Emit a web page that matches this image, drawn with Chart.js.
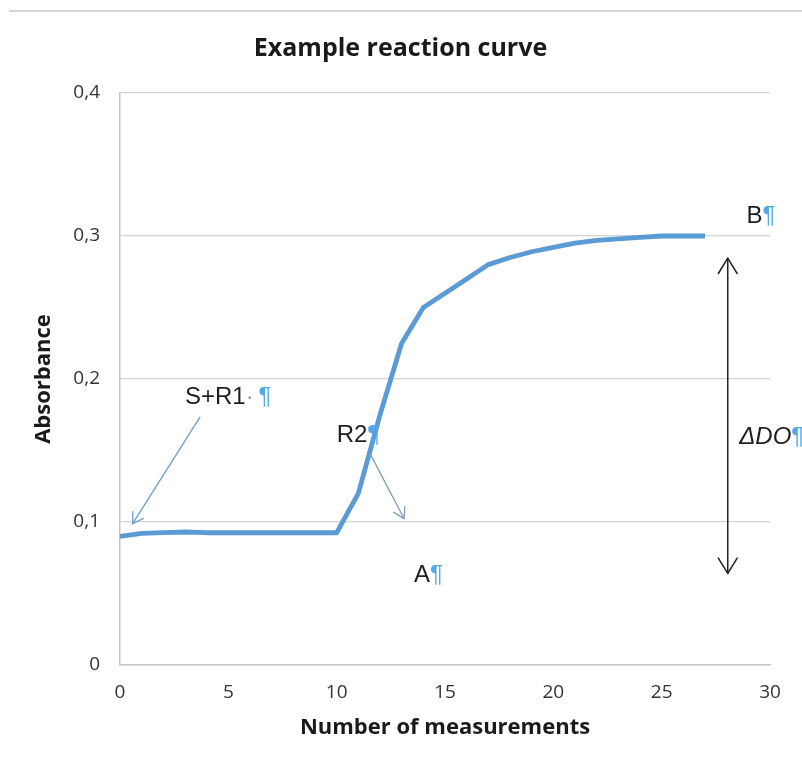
<!DOCTYPE html>
<html>
<head>
<meta charset="utf-8">
<script src="https://cdn.jsdelivr.net/npm/chart.js@4.4.1/dist/chart.umd.min.js"></script>
<style>
  html, body { margin: 0; padding: 0; background: #ffffff; }
  #wrap { position: relative; width: 802px; height: 766px; }
  #topline { position: absolute; left: 9px; right: 0; top: 10px; height: 2px; background: #d4d4d4; }
  canvas { position: absolute; left: 0; top: 0; }
</style>
</head>
<body>
<div id="wrap">
  <canvas id="c" width="802" height="766"></canvas>
  <div id="topline"></div>
</div>
<script>
// ---- data ----
const measurements = [0, 1, 2, 3, 4, 5, 6, 7, 8, 9, 10, 11, 12, 13, 14, 15, 16, 17, 18, 19, 20, 21, 22, 23, 24, 25, 26, 27];
const absorbance = [0.090, 0.092, 0.0925, 0.093, 0.0925, 0.0925, 0.0925, 0.0925, 0.0925, 0.0925, 0.0925,
                    0.120, 0.175, 0.225, 0.250, 0.260, 0.270, 0.280, 0.285, 0.289, 0.292, 0.295, 0.297,
                    0.298, 0.299, 0.300, 0.300, 0.300];
const yTickLabels = ['0', '0,1', '0,2', '0,3', '0,4'];
const xTickLabels = ['0', '5', '10', '15', '20', '25', '30'];

// ---- annotations (data coordinates) ----
const noteTexts = [
  { x: 3.0,   y: 0.1822, parts: [['S+R1', '#1e1e1e', ''], ['\u00B7', '#9a9a9a', ''], ['\u2009', '#ffffff', ''], ['\u00B6', '#4fa8ea', '']] },
  { x: 10.0,  y: 0.1559, parts: [['R2', '#1e1e1e', ''], ['\u00B6', '#4fa8ea', '']] },
  { x: 13.57, y: 0.058,  parts: [['A', '#1e1e1e', ''], ['\u00B6', '#4fa8ea', '']] },
  { x: 28.92, y: 0.3093, parts: [['B', '#1e1e1e', ''], ['\u00B6', '#4fa8ea', '']] },
  { x: 28.58, y: 0.1548, parts: [['\u0394DO', '#1e1e1e', 'italic '], ['\u00B6', '#4fa8ea', '']] }
];
const noteArrows = [
  { from: [3.69, 0.1733], to: [0.585, 0.0988], color: '#6b9fd3', width: 1.3, head: 12, both: false },
  { from: [11.54, 0.1478], to: [13.11, 0.1024], color: '#7d9cbd', width: 1.3, head: 12, both: false },
  { from: [28.05, 0.0640], to: [28.05, 0.2845], color: '#222222', width: 1.5, head: 18, both: true }
];

function drawHead(ctx, x1, y1, x2, y2, len) {
  const ang = Math.atan2(y2 - y1, x2 - x1);
  const spread = 0.55;
  ctx.beginPath();
  ctx.moveTo(x2 - len * Math.cos(ang - spread), y2 - len * Math.sin(ang - spread));
  ctx.lineTo(x2, y2);
  ctx.lineTo(x2 - len * Math.cos(ang + spread), y2 - len * Math.sin(ang + spread));
  ctx.stroke();
}

const notesPlugin = {
  id: 'notes',
  afterDatasetsDraw(chart) {
    const ctx = chart.ctx;
    const xs = chart.scales.x, ys = chart.scales.y;
    ctx.save();
    ctx.lineCap = 'round';
    ctx.lineJoin = 'round';
    noteArrows.forEach(a => {
      const x1 = xs.getPixelForValue(a.from[0]), y1 = ys.getPixelForValue(a.from[1]);
      const x2 = xs.getPixelForValue(a.to[0]), y2 = ys.getPixelForValue(a.to[1]);
      ctx.strokeStyle = a.color;
      ctx.lineWidth = a.width;
      ctx.beginPath();
      ctx.moveTo(x1, y1);
      ctx.lineTo(x2, y2);
      ctx.stroke();
      drawHead(ctx, x1, y1, x2, y2, a.head);
      if (a.both) drawHead(ctx, x2, y2, x1, y1, a.head);
    });
    ctx.textBaseline = 'alphabetic';
    ctx.textAlign = 'left';
    noteTexts.forEach(n => {
      let px = xs.getPixelForValue(n.x);
      const py = ys.getPixelForValue(n.y);
      n.parts.forEach(p => {
        ctx.font = p[2] + '24px "Liberation Sans", Arial, sans-serif';
        ctx.fillStyle = p[1];
        ctx.fillText(p[0], px, py);
        px += ctx.measureText(p[0]).width;
      });
    });
    ctx.restore();
  }
};

new Chart(document.getElementById('c'), {
  type: 'line',
  data: {
    datasets: [{
      data: measurements.map((m, i) => ({ x: m, y: absorbance[i] })),
      borderColor: '#5b9bd5',
      borderWidth: 4.8,
      pointRadius: 0,
      tension: 0,
      fill: false,
      borderCapStyle: 'butt',
      borderJoinStyle: 'round'
    }]
  },
  options: {
    responsive: false,
    animation: false,
    devicePixelRatio: 1,
    layout: { padding: { left: 31, right: 32, top: 0, bottom: 0 } },
    plugins: {
      legend: { display: false },
      tooltip: { enabled: false },
      title: {
        display: true,
        text: 'Example reaction curve',
        color: '#1a1a1a',
        font: { family: '"Open Sans", sans-serif', size: 25, weight: 'bold' },
        padding: { top: 34, bottom: 29 }
      }
    },
    scales: {
      x: {
        type: 'linear',
        min: 0, max: 30,
        afterFit(scale) { scale.height = 101; },
        afterBuildTicks(scale) { scale.ticks = xTickLabels.map(t => ({ value: Number(t) })); },
        ticks: {
          callback: (v, i) => xTickLabels[i],
          color: '#333333',
          padding: 16,
          maxRotation: 0,
          font: { family: '"Open Sans", sans-serif', size: 19 }
        },
        grid: { display: true, drawOnChartArea: false, drawTicks: false },
        border: { display: true, color: '#c4c4c4', width: 1.5 },
        title: {
          display: true,
          text: 'Number of measurements',
          color: '#1a1a1a',
          font: { family: '"Open Sans", sans-serif', size: 22, weight: 'bold' },
          padding: { top: 0, bottom: 25 }
        }
      },
      y: {
        min: 0, max: 0.4,
        afterFit(scale) { scale.width = 89; },
        afterBuildTicks(scale) { scale.ticks = yTickLabels.map(t => ({ value: Number(t.replace(',', '.')) })); },
        ticks: {
          callback: (v, i) => yTickLabels[i],
          color: '#333333',
          padding: 20,
          font: { family: '"Open Sans", sans-serif', size: 19 }
        },
        grid: { color: '#d4d4d4', lineWidth: 1.2, drawTicks: false },
        border: { display: true, color: '#c4c4c4', width: 1.5 },
        title: {
          display: true,
          text: 'Absorbance',
          color: '#1a1a1a',
          font: { family: '"Open Sans", sans-serif', size: 22, weight: 'bold' },
          padding: { top: 0, bottom: 0 }
        }
      }
    }
  },
  plugins: [notesPlugin]
});
</script>
</body>
</html>
